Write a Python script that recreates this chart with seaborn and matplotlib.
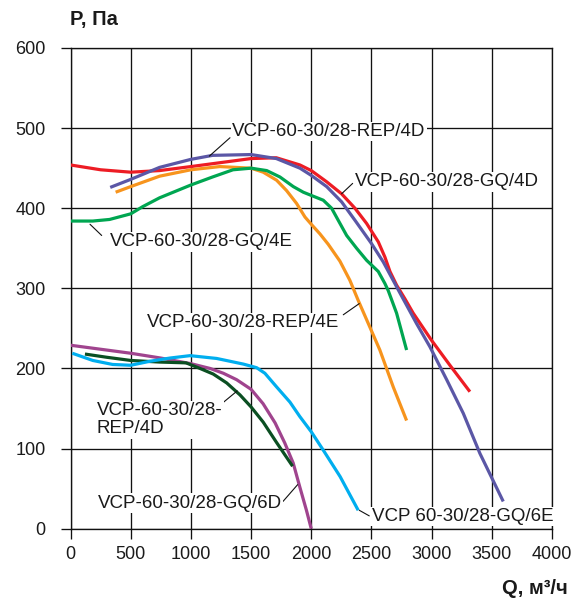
import matplotlib
matplotlib.use("Agg")
import matplotlib.pyplot as plt
import seaborn as sns
import pandas as pd

# ---- data ----
red_q = [0, 250, 500, 740, 1000, 1250, 1500, 1710, 1906, 2000, 2128, 2252, 2363, 2460, 2557, 2612, 2654, 2709, 2778, 2847, 3000, 3152, 3318]
red_p = [454, 448, 445, 447, 452, 457, 462, 463, 454, 447, 433, 418, 400, 381, 358, 339, 321, 304, 287, 269, 235, 204, 171]

purple_q = [330, 500, 740, 1000, 1180, 1500, 1710, 1906, 2000, 2128, 2252, 2363, 2500, 2598, 2709, 2875, 2986, 3125, 3263, 3401, 3595]
purple_p = [426, 436, 451, 461, 466, 467, 462, 450, 441, 427, 408, 385, 356, 333, 302, 256, 227, 186, 144, 94, 34]

orange_q = [375, 500, 740, 1000, 1240, 1500, 1601, 1712, 1795, 1878, 1948, 2000, 2072, 2141, 2238, 2321, 2390, 2570, 2681, 2792]
orange_p = [420, 427, 440, 448, 452, 450, 445, 435, 422, 406, 389, 380, 368, 355, 334, 310, 285, 223, 177, 135]

green_q = [0, 185, 325, 500, 600, 740, 1000, 1180, 1350, 1500, 1630, 1740, 1851, 1934, 2000, 2100, 2169, 2224, 2294, 2377, 2460, 2557, 2612, 2640, 2709, 2792]
green_p = [384, 384, 386, 393, 402, 413, 429, 439, 448, 450, 447, 439, 427, 420, 416, 410, 400, 385, 366, 350, 335, 321, 306, 297, 269, 223]

magenta_q = [0, 250, 500, 750, 1000, 1160, 1270, 1380, 1500, 1600, 1700, 1780, 1850, 1905, 1960, 2000]
magenta_p = [229, 224, 219, 213, 206, 200, 194, 186, 174, 156, 132, 107, 82, 52, 23, 0]

dkgreen_q = [120, 300, 500, 740, 960, 1076, 1186, 1297, 1408, 1500, 1601, 1710, 1845]
dkgreen_p = [218, 214, 210, 208, 207, 200, 193, 182, 167, 152, 133, 108, 78]

cyan_q = [15, 185, 350, 500, 660, 826, 993, 1214, 1435, 1546, 1615, 1712, 1823, 1905, 2000, 2100, 2240, 2390]
cyan_p = [219, 210, 205, 204, 209, 213, 216, 212.5, 205.5, 201, 194, 177, 158, 140, 121, 98, 65, 23]

x_ticks = [0, 500, 1000, 1500, 2000, 2500, 3000, 3500, 4000]
y_ticks = [0, 100, 200, 300, 400, 500, 600]

series = [
    ("GQ/4D", red_q, red_p, "#ED1C24"),
    ("REP/4D", purple_q, purple_p, "#5B57A6"),
    ("REP/4E", orange_q, orange_p, "#F7941D"),
    ("GQ/4E", green_q, green_p, "#00A651"),
    ("GQ/6D", magenta_q, magenta_p, "#A0448E"),
    ("REP/4D-2", dkgreen_q, dkgreen_p, "#0B4F22"),
    ("GQ/6E", cyan_q, cyan_p, "#00AEEF"),
]

# label text, text position, ha, leader start, leader end
labels = [
    ("VCP-60-30/28-REP/4D", (1345, 496), "left", (1325, 488), (1153, 465)),
    ("VCP-60-30/28-GQ/4D", (2365, 433), "left", (2344, 431), (2252, 418)),
    ("VCP-60-30/28-GQ/4E", (330, 358), "left", (259, 366), (162, 380)),
    ("VCP-60-30/28-REP/4E", (2233, 257), "right", (2266, 267), (2399, 281)),
    ("VCP-60-30/28-\nREP/4D", (218, 136), "left", (1256, 156), (1385, 172)),
    ("VCP-60-30/28-GQ/6D", (1754, 32), "right", (1765, 34), (1887, 55)),
    ("VCP 60-30/28-GQ/6E", (2502, 15), "left", (2482, 16), (2399, 23)),
]

sns.set_theme(style="white")
plt.rcParams["font.family"] = ["Liberation Sans", "DejaVu Sans"]

fig = plt.figure(figsize=(5.83, 6.0), dpi=100)
ax = fig.add_axes([70.5 / 583, 1 - 528.7 / 600, (552 - 70.5) / 583, (528.7 - 48) / 600])

for name, q, p, col in series:
    df = pd.DataFrame({"Q": q, "P": p})
    sns.lineplot(data=df, x="Q", y="P", ax=ax, color=col, lw=2.3,
                 sort=False, estimator=None, legend=False, zorder=3)
for line in ax.get_lines():
    line.set_solid_joinstyle("round")
    line.set_solid_capstyle("butt")

ax.set_xlim(0, 4000)
ax.set_ylim(0, 600)
ax.set_xticks(x_ticks)
ax.set_yticks(y_ticks)
ax.set_xticklabels([str(t) for t in x_ticks])
ax.set_yticklabels([str(t) for t in y_ticks])
ax.set_xlabel("")
ax.set_ylabel("")
ax.grid(True, color="#111111", lw=0.95)
ax.set_axisbelow(True)
for s in ax.spines.values():
    s.set_color("#111111")
    s.set_linewidth(0.95)
ax.tick_params(axis="both", which="both", direction="out", length=7.5, width=0.95,
               color="#111111", labelsize=13, labelcolor="#1a1a1a",
               bottom=True, left=True, top=False, right=False)
ax.tick_params(axis="x", pad=5)
ax.tick_params(axis="y", pad=10.5)

for txt, pos, ha, l0, l1 in labels:
    ax.annotate("", xy=l1, xytext=l0,
                arrowprops=dict(arrowstyle="-", lw=0.8, color="#111111",
                                shrinkA=0, shrinkB=0), zorder=4)
    ax.text(pos[0], pos[1], txt, ha=ha, va="center", fontsize=13.5, color="#1a1a1a",
            linespacing=1.1, zorder=5,
            bbox=dict(facecolor="white", edgecolor="none", pad=1.0))

fig.text(70 / 583, 1 - 20 / 600, "P, Па", ha="left", va="center",
         fontsize=14.5, fontweight="bold", color="#1a1a1a")
fig.text(568 / 583, 1 - 588 / 600, "Q, м³/ч", ha="right", va="center",
         fontsize=14.5, fontweight="bold", color="#1a1a1a")

fig.savefig("out.png", dpi=100, facecolor="white")
